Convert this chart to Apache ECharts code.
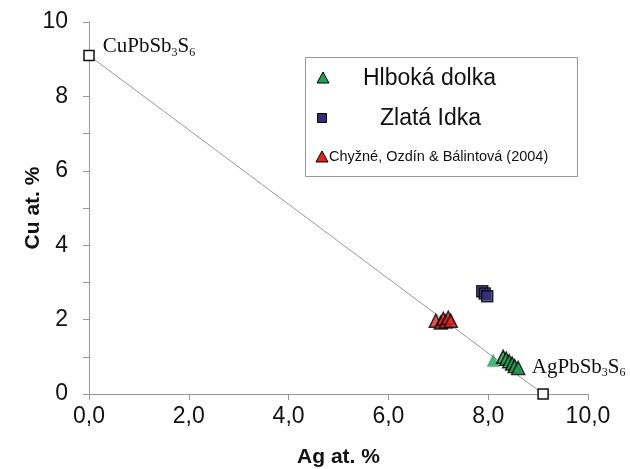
<!DOCTYPE html>
<html><head><meta charset="utf-8">
<script src="https://cdn.jsdelivr.net/npm/echarts@6/dist/echarts.min.js"></script>
<style>html,body{margin:0;padding:0;background:#fff}#c{width:630px;height:469px}</style>
</head><body><div id="c"></div>
<script>
const xTicks = ['0,0','2,0','4,0','6,0','8,0','10,0'];
const endMembers = [[0, 9.1], [9.1, 0]];
const hlbokaBare = [[8.1, 0.91]];
const hlboka = [[8.3, 1.0], [8.36, 0.95], [8.42, 0.88], [8.48, 0.82], [8.53, 0.75], [8.6, 0.7]];
const zlata = [[7.88, 2.76], [7.93, 2.7], [7.98, 2.63]];
const chyzne = [[6.95, 1.97], [7.05, 1.92], [7.1, 2.02], [7.15, 1.95], [7.2, 2.05], [7.25, 1.97]];

const chart = echarts.init(document.getElementById('c'));
const green = '#1fa055', red = '#e5221c', navy = '#332e78';
chart.setOption({
  animation: false,
  grid: {left: 89, right: 42, top: 22, bottom: 75, outerBoundsMode: 'none', containLabel: false},
  xAxis: {
    type: 'value', min: 0, max: 10, interval: 2,
    name: 'Ag at. %', nameLocation: 'middle', nameGap: 53, nameMoveOverlap: false,
    nameTextStyle: {fontFamily: 'Liberation Sans', fontWeight: 'bold', fontSize: 21, color: '#111'},
    axisLine: {onZero: false, lineStyle: {color: '#999', width: 1}},
    axisTick: {show: true, length: 6, lineStyle: {color: '#999'}},
    axisLabel: {fontFamily: 'Liberation Sans', fontSize: 23, color: '#111', margin: 11,
      formatter: v => xTicks[Math.round(v / 2)]},
    splitLine: {show: false}
  },
  yAxis: {
    type: 'value', min: 0, max: 10, interval: 1,
    name: 'Cu at. %', nameLocation: 'middle', nameGap: 45, nameRotate: 90, nameMoveOverlap: false,
    nameTextStyle: {fontFamily: 'Liberation Sans', fontWeight: 'bold', fontSize: 21, color: '#111'},
    axisLine: {onZero: false, lineStyle: {color: '#999', width: 1}},
    axisTick: {show: true, length: 6, lineStyle: {color: '#999'}},
    axisLabel: {fontFamily: 'Liberation Sans', fontSize: 23, color: '#111', margin: 21,
      formatter: v => (v % 2 === 0 ? String(v) : '')},
    splitLine: {show: false}
  },
  series: [
    {type: 'line', data: endMembers, symbol: 'rect', symbolSize: 10,
     lineStyle: {color: '#999', width: 1},
     itemStyle: {color: '#fff', borderColor: '#111', borderWidth: 1.5}, z: 2,
     label: {show: true, fontFamily: 'Liberation Serif', fontSize: 21, color: '#111',
       formatter: p => p.dataIndex === 0 ? 'CuPbSb{s|3}S{s|6}' : 'AgPbSb{s|3}S{s|6}',
       position: 'right', distance: 0,
       rich: {s: {fontFamily: 'Liberation Serif', fontSize: 12, color: '#111', padding: [12, 0, 0, 0]}}},
     labelLayout: p => p.dataIndex === 0 ? {dx: 8, dy: -9} : {dx: -17, dy: -27}
    },
    {type: 'scatter', data: chyzne, symbol: 'triangle', symbolSize: 13,
     itemStyle: {color: red, borderColor: '#000', borderWidth: 1.5}, z: 3},
    {type: 'scatter', data: zlata, symbol: 'rect', symbolSize: 11,
     itemStyle: {color: navy, borderColor: '#000', borderWidth: 1.5}, z: 3},
    {type: 'scatter', data: hlbokaBare, symbol: 'triangle', symbolSize: 13,
     itemStyle: {color: green}, z: 3},
    {type: 'scatter', data: hlboka, symbol: 'triangle', symbolSize: 13,
     itemStyle: {color: green, borderColor: '#000', borderWidth: 1.5}, z: 3}
  ],
  graphic: [
    {type: 'rect', shape: {x: 305.5, y: 57.5, width: 272, height: 119},
     style: {fill: '#fff', stroke: '#999', lineWidth: 1}, z: 10},
    {type: 'polygon', shape: {points: [[323, 72], [317, 83], [329, 83]]},
     style: {fill: green, stroke: '#000', lineWidth: 1}, z: 11},
    {type: 'text', x: 363, y: 79, style: {text: 'Hlboká dolka', fontFamily: 'Liberation Sans', fontSize: 23, fill: '#111', verticalAlign: 'middle'}, z: 11},
    {type: 'rect', shape: {x: 317.5, y: 113.5, width: 9, height: 9},
     style: {fill: navy, stroke: '#000', lineWidth: 1}, z: 11},
    {type: 'text', x: 380, y: 119, style: {text: 'Zlatá Idka', fontFamily: 'Liberation Sans', fontSize: 23, fill: '#111', verticalAlign: 'middle'}, z: 11},
    {type: 'polygon', shape: {points: [[322, 151], [316, 162], [328, 162]]},
     style: {fill: red, stroke: '#000', lineWidth: 1}, z: 11},
    {type: 'text', x: 329, y: 157, style: {text: 'Chyžné, Ozdín & Bálintová (2004)', fontFamily: 'Liberation Sans', fontSize: 14.5, fill: '#111', verticalAlign: 'middle'}, z: 11}
  ]
});
</script></body></html>
